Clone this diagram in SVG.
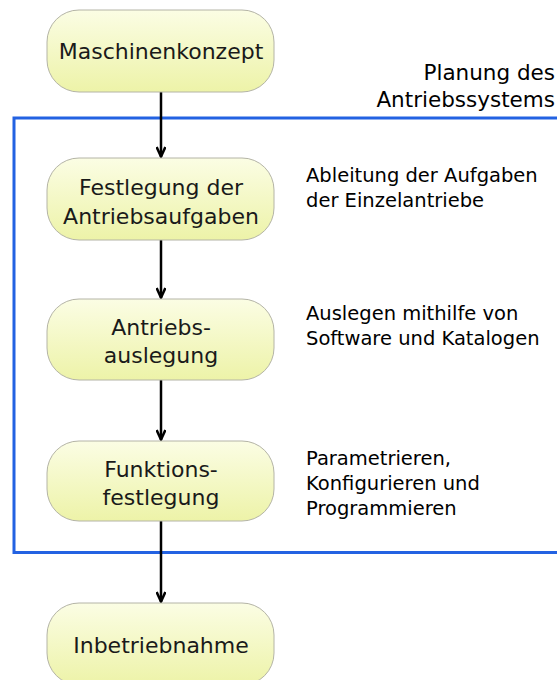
<svg xmlns="http://www.w3.org/2000/svg" width="557" height="680" viewBox="0 0 557 680">
  <style>
    .node rect { fill: url(#nodeFill); stroke: #b4b4a6; stroke-width: 1; }
    .node text { font-family: "DejaVu Sans", Verdana, sans-serif; font-size: 22px; fill: #1a1a1a; text-anchor: middle; }
    .note { font-family: "DejaVu Sans", Verdana, sans-serif; font-size: 19.5px; fill: #000; }
    .title { font-family: "DejaVu Sans", Verdana, sans-serif; font-size: 21.5px; fill: #000; text-anchor: end; }
    .conn line { stroke: #000; stroke-width: 2.5; marker-end: url(#arrow); }
  </style>
  <defs>
    <linearGradient id="nodeFill" x1="0" y1="0" x2="0" y2="1">
      <stop offset="0" stop-color="#fbfde4"/>
      <stop offset="1" stop-color="#edf3a8"/>
    </linearGradient>
    <marker id="arrow" viewBox="0 0 12 10" refX="11" refY="5" markerWidth="12" markerHeight="10" markerUnits="userSpaceOnUse" orient="auto">
      <path d="M1,0.6 L10.5,5 L1,9.4" fill="none" stroke="#000" stroke-width="2.6"/>
    </marker>
  </defs>

  <rect width="557" height="680" fill="#fff"/>

  <!-- boundary of the drive-system planning phase -->
  <rect x="14" y="118" width="560" height="434.5" fill="none" stroke="#2362e2" stroke-width="3"/>
  <text class="title" x="555" y="80">Planung des</text>
  <text class="title" x="555" y="107">Antriebssystems</text>

  <g class="conn">
    <line x1="161" y1="92" x2="161" y2="157"/>
    <line x1="161" y1="240" x2="161" y2="298"/>
    <line x1="161" y1="380" x2="161" y2="440"/>
    <line x1="161" y1="521" x2="161" y2="602"/>
  </g>

  <g id="maschinenkonzept" class="node">
    <rect x="47" y="10" width="227" height="82" rx="32" ry="32"/>
    <text x="161" y="59">Maschinenkonzept</text>
  </g>
  <g id="festlegung" class="node">
    <rect x="47" y="158" width="227" height="82" rx="32" ry="32"/>
    <text x="161" y="195">Festlegung der</text>
    <text x="161" y="224">Antriebsaufgaben</text>
  </g>
  <g id="auslegung" class="node">
    <rect x="47" y="299" width="227" height="81" rx="32" ry="32"/>
    <text x="161" y="335">Antriebs-</text>
    <text x="161" y="363">auslegung</text>
  </g>
  <g id="funktion" class="node">
    <rect x="47" y="441" width="227" height="80" rx="32" ry="32"/>
    <text x="161" y="477">Funktions-</text>
    <text x="161" y="505">festlegung</text>
  </g>
  <g id="inbetriebnahme" class="node">
    <rect x="47" y="603" width="227" height="82" rx="32" ry="32"/>
    <text x="161" y="653">Inbetriebnahme</text>
  </g>

  <text class="note" x="306" y="182">Ableitung der Aufgaben</text>
  <text class="note" x="306" y="207">der Einzelantriebe</text>
  <text class="note" x="306" y="320">Auslegen mithilfe von</text>
  <text class="note" x="306" y="345">Software und Katalogen</text>
  <text class="note" x="306" y="465">Parametrieren,</text>
  <text class="note" x="306" y="490">Konfigurieren und</text>
  <text class="note" x="306" y="515">Programmieren</text>
</svg>
